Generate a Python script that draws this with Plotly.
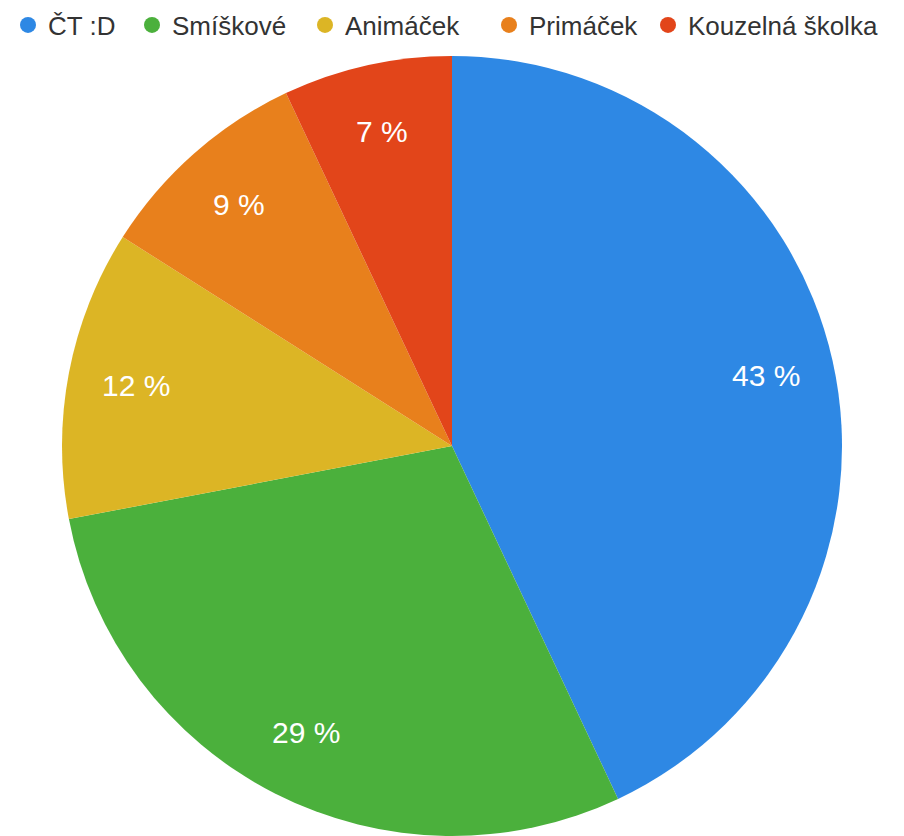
import math
import plotly.graph_objects as go

labels = ["ČT :D", "Smíškové", "Animáček", "Primáček", "Kouzelná školka"]
values = [43, 29, 12, 9, 7]
colors = ["#2e88e4", "#4bb03c", "#dcb525", "#e8801c", "#e2451a"]
legend_widths = [79, 128, 139, 114, 190]

W, H = 904, 836
ML, MR, MT, MB = 0, 16, 48, 8
plot_w, plot_h = W - ML - MR, H - MT - MB
R = min(plot_w, plot_h) / 2

fig = go.Figure()
fig.add_trace(go.Pie(
    labels=labels, values=values, sort=False, direction="clockwise", rotation=0,
    marker=dict(colors=colors, line=dict(width=0)),
    textinfo="none", showlegend=False, hoverinfo="label+percent",
    domain=dict(x=[0, 1], y=[0, 1]),
))
for lab, col, lw in zip(labels, colors, legend_widths):
    fig.add_trace(go.Scatter(x=[None], y=[None], mode="markers", name=lab, legendwidth=lw,
                             marker=dict(symbol="circle", size=17, color=col)))

# percentage labels at ~0.825 of radius, at the middle angle of each slice
total = sum(values)
cum = 0
annotations = []
for v in values:
    mid = (cum + v / 2) / total * 2 * math.pi
    cum += v
    r = 0.825 * R
    px = 0.5 + r * math.sin(mid) / plot_w
    py = 0.5 + r * math.cos(mid) / plot_h
    annotations.append(dict(x=px, y=py, xref="paper", yref="paper", text=f"{v} %",
                            showarrow=False, xanchor="center", yanchor="middle",
                            font=dict(family="Liberation Sans", size=30, color="white")))

fig.update_layout(
    width=W, height=H, paper_bgcolor="white", plot_bgcolor="white",
    margin=dict(l=ML, r=MR, t=MT, b=MB),
    xaxis=dict(visible=False), yaxis=dict(visible=False),
    annotations=annotations,
    legend=dict(orientation="h", x=0, xanchor="left", xref="container",
                y=1 - 17 / H, yanchor="middle", yref="container",
                font=dict(family="Liberation Sans", size=26, color="#333333"),
                itemwidth=30, tracegroupgap=0),
)
fig.write_html("out.html")
